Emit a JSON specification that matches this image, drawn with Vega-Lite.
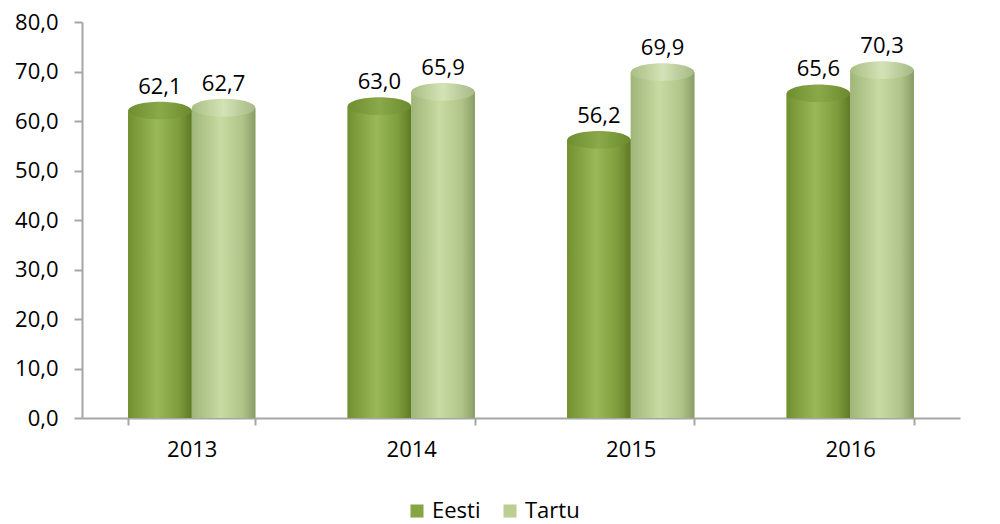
{
  "$schema": "https://vega.github.io/schema/vega-lite/v6.json",
  "width": 878,
  "height": 396,
  "autosize": "none",
  "padding": {"left": 82, "top": 22, "right": 40, "bottom": 106},
  "background": "white",
  "config": {
    "locale": {"number": {"decimal": ",", "thousands": " ", "grouping": [3], "currency": ["", " €"]}},
    "view": {"stroke": null},
    "font": "Open Sans"
  },
  "data": {
    "values": [
      {"year": "2013", "series": "Eesti", "value": 62.1},
      {"year": "2013", "series": "Tartu", "value": 62.7},
      {"year": "2014", "series": "Eesti", "value": 63.0},
      {"year": "2014", "series": "Tartu", "value": 65.9},
      {"year": "2015", "series": "Eesti", "value": 56.2},
      {"year": "2015", "series": "Tartu", "value": 69.9},
      {"year": "2016", "series": "Eesti", "value": 65.6},
      {"year": "2016", "series": "Tartu", "value": 70.3}
    ]
  },
  "encoding": {
    "x": {
      "field": "year", "type": "nominal",
      "scale": {"paddingInner": 0.42, "paddingOuter": 0.21},
      "axis": {
        "title": null, "labelAngle": 0, "labelFontSize": 22, "labelColor": "#000",
        "labelPadding": 14, "tickBand": "extent", "tickSize": 7,
        "domainColor": "#a6a6a6", "tickColor": "#a6a6a6", "domainWidth": 2, "tickWidth": 2
      }
    },
    "xOffset": {"field": "series", "type": "nominal", "scale": {"paddingInner": 0, "paddingOuter": 0}},
    "y": {
      "field": "value", "type": "quantitative",
      "scale": {"domain": [0, 80]},
      "axis": {
        "title": null, "values": [0, 10, 20, 30, 40, 50, 60, 70, 80], "format": ".1f",
        "labelFontSize": 22, "labelColor": "#000", "labelPadding": 16, "tickSize": 8,
        "grid": false, "domainColor": "#a6a6a6", "tickColor": "#a6a6a6", "domainWidth": 2, "tickWidth": 2
      }
    }
  },
  "layer": [
    {
      "mark": {"type": "bar"},
      "encoding": {
        "color": {
          "field": "series", "type": "nominal",
          "scale": {"domain": ["Eesti", "Tartu"], "range": ["#86a545", "#bccf92"]},
          "legend": {
            "title": null, "orient": "none", "direction": "horizontal",
            "legendX": 324, "legendY": 478,
            "labelFontSize": 22, "labelColor": "#000", "symbolType": "square",
            "symbolSize": 170, "symbolStrokeWidth": 0, "columnPadding": 18, "labelOffset": 4
          }
        }
      }
    },
    {
      "transform": [{"filter": "datum.series === 'Eesti'"}],
      "mark": {
        "type": "bar",
        "fill": {"gradient": "linear", "x1": 0, "y1": 0, "x2": 1, "y2": 0,
          "stops": [{"offset": 0, "color": "#71902f"}, {"offset": 0.45, "color": "#9ab857"}, {"offset": 0.8, "color": "#7d9c3c"}, {"offset": 1, "color": "#5e7a26"}]}
      }
    },
    {
      "transform": [{"filter": "datum.series === 'Tartu'"}],
      "mark": {
        "type": "bar",
        "fill": {"gradient": "linear", "x1": 0, "y1": 0, "x2": 1, "y2": 0,
          "stops": [{"offset": 0, "color": "#9fb679"}, {"offset": 0.45, "color": "#c8dba2"}, {"offset": 0.8, "color": "#b0c488"}, {"offset": 1, "color": "#889c66"}]}
      }
    },
    {
      "transform": [{"filter": "datum.series === 'Eesti'"}],
      "mark": {
        "type": "point", "filled": true, "size": 4000, "opacity": 1,
        "shape": "M -1 0 A 1 0.28 0 1 0 1 0 A 1 0.28 0 1 0 -1 0 Z",
        "fill": {"gradient": "linear", "x1": 0, "y1": 0, "x2": 1, "y2": 0,
          "stops": [{"offset": 0, "color": "#6f8e30"}, {"offset": 0.5, "color": "#8aa94a"}, {"offset": 1, "color": "#6a8a2d"}]}
      }
    },
    {
      "transform": [{"filter": "datum.series === 'Tartu'"}],
      "mark": {
        "type": "point", "filled": true, "size": 4000, "opacity": 1,
        "shape": "M -1 0 A 1 0.28 0 1 0 1 0 A 1 0.28 0 1 0 -1 0 Z",
        "fill": {"gradient": "linear", "x1": 0, "y1": 0, "x2": 1, "y2": 0,
          "stops": [{"offset": 0, "color": "#a9bf84"}, {"offset": 0.5, "color": "#d4e3b6"}, {"offset": 1, "color": "#a5b985"}]}
      }
    },
    {
      "mark": {"type": "text", "baseline": "bottom", "dy": -12, "fontSize": 22, "color": "#000"},
      "encoding": {"text": {"field": "value", "type": "quantitative", "format": ".1f"}}
    }
  ]
}
